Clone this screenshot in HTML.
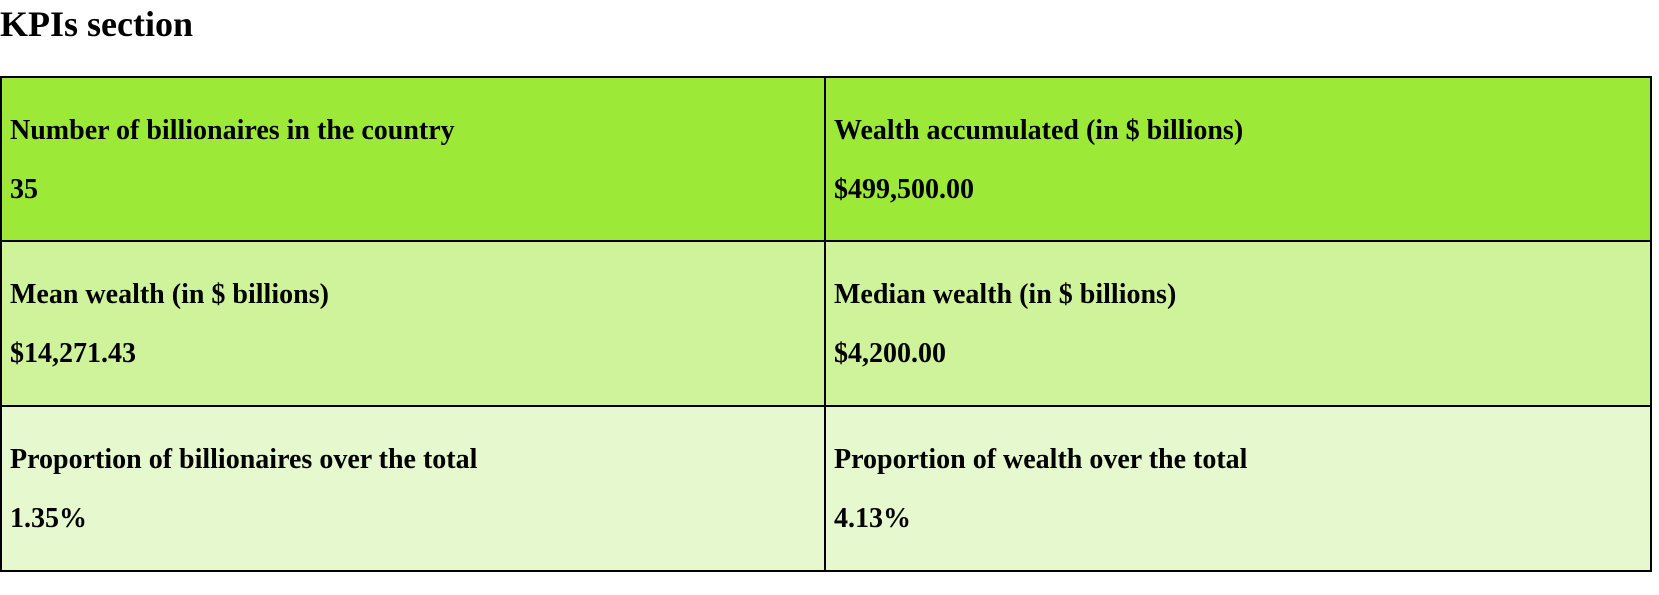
<!DOCTYPE html>
<html><head><meta charset="utf-8">
<style>
body{margin:0;width:1659px;height:595px;background:#fff;position:relative;overflow:hidden;font-family:"Liberation Serif",serif;font-weight:bold;color:#000}
h2{position:absolute;left:0;top:2px;margin:0;font-size:36px;line-height:44px}
.c{position:absolute;box-sizing:border-box;border:2px solid #000}
.l,.v{position:absolute;left:8px;font-size:28px;line-height:30px;white-space:nowrap}
.l{top:38px}.v{top:97px}
.r1{background:#9de937}.r2{background:#cef39a}.r3{background:#e6f8cd}
</style></head><body>
<h2>KPIs section</h2>
<div>
<div class="c r1" style="left:0;top:76px;width:826px;height:166px"><div class="l">Number of billionaires in the country</div><div class="v">35</div></div>
<div class="c r1" style="left:824px;top:76px;width:828px;height:166px"><div class="l">Wealth accumulated (in $ billions)</div><div class="v">$499,500.00</div></div>
<div class="c r2" style="left:0;top:240px;width:826px;height:167px"><div class="l">Mean wealth (in $ billions)</div><div class="v">$14,271.43</div></div>
<div class="c r2" style="left:824px;top:240px;width:828px;height:167px"><div class="l">Median wealth (in $ billions)</div><div class="v">$4,200.00</div></div>
<div class="c r3" style="left:0;top:405px;width:826px;height:167px"><div class="l">Proportion of billionaires over the total</div><div class="v">1.35%</div></div>
<div class="c r3" style="left:824px;top:405px;width:828px;height:167px"><div class="l">Proportion of wealth over the total</div><div class="v">4.13%</div></div>
</div>
</body></html>
